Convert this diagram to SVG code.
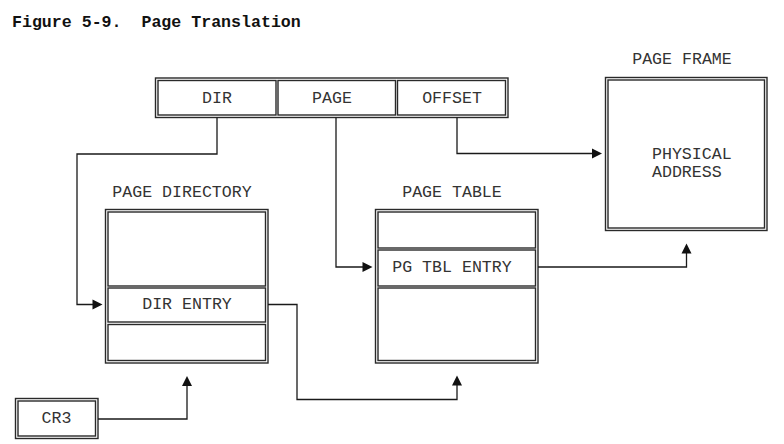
<svg xmlns="http://www.w3.org/2000/svg" width="784" height="444" viewBox="0 0 784 444">
  <defs>
    <style>
      text { font-family: "Liberation Mono", "Courier New", monospace; font-size: 16.6px; fill: #333333; white-space: pre; }
      .title { font-weight: bold; fill: #111; }
      .mid { text-anchor: middle; }
      .box { fill: none; stroke: #2a2a2a; stroke-width: 1.4; }
      .wire { fill: none; stroke: #1a1a1a; stroke-width: 1.3; }
      .head { fill: #111; }
    </style>
  </defs>
  <rect width="784" height="444" fill="#ffffff"/>

  <text class="title" x="12" y="26.5" xml:space="preserve">Figure 5-9.  Page Translation</text>

  <!-- linear address: DIR | PAGE | OFFSET -->
  <g id="linear-address">
    <rect class="box" x="155.5" y="78" width="352.5" height="39.5"/>
    <rect class="box" x="158" y="80.5" width="118" height="34.5"/>
    <rect class="box" x="278" y="80.5" width="117.5" height="34.5"/>
    <rect class="box" x="397.5" y="80.5" width="108" height="34.5"/>
    <text class="mid" x="217" y="102.7">DIR</text>
    <text class="mid" x="332" y="102.7">PAGE</text>
    <text class="mid" x="452" y="102.7">OFFSET</text>
  </g>

  <!-- page frame -->
  <g id="page-frame">
    <text class="mid" x="682" y="64.3">PAGE FRAME</text>
    <rect class="box" x="605.5" y="77.5" width="161.5" height="153"/>
    <rect class="box" x="608" y="80" width="156.5" height="148"/>
    <text x="652" y="159">PHYSICAL</text>
    <text x="652" y="177.3">ADDRESS</text>
  </g>

  <!-- page directory -->
  <g id="page-directory">
    <text class="mid" x="182" y="196.7">PAGE DIRECTORY</text>
    <rect class="box" x="105.5" y="209.5" width="162.5" height="153.5"/>
    <rect class="box" x="108" y="212" width="157.5" height="74"/>
    <rect class="box" x="108" y="288" width="157.5" height="34"/>
    <rect class="box" x="108" y="324.5" width="157.5" height="36"/>
    <text class="mid" x="187" y="309.3">DIR ENTRY</text>
  </g>

  <!-- page table -->
  <g id="page-table">
    <text class="mid" x="452" y="196.7">PAGE TABLE</text>
    <rect class="box" x="375.5" y="209.5" width="162.5" height="153.5"/>
    <rect class="box" x="378" y="212" width="157.5" height="36"/>
    <rect class="box" x="378" y="250" width="157.5" height="36"/>
    <rect class="box" x="378" y="288" width="157.5" height="72.5"/>
    <text class="mid" x="452" y="272.3">PG TBL ENTRY</text>
  </g>

  <!-- CR3 register -->
  <g id="cr3">
    <rect class="box" x="15.5" y="398.5" width="82.5" height="40"/>
    <rect class="box" x="18" y="401" width="77.5" height="35"/>
    <text class="mid" x="56.5" y="423.3">CR3</text>
  </g>

  <!-- connectors -->
  <g id="connectors">
    <polyline class="wire" points="217,117.5 217,154 77,154 77,304.5 94,304.5"/>
    <polygon class="head" points="102.5,304.5 92.5,299.5 92.5,309.5"/>

    <polyline class="wire" points="336,117.5 336,267 364,267"/>
    <polygon class="head" points="372.5,267 362.5,262 362.5,272"/>

    <polyline class="wire" points="457,117.5 457,153.5 594,153.5"/>
    <polygon class="head" points="602,153.5 592,148.5 592,158.5"/>

    <polyline class="wire" points="268,304.5 297,304.5 297,399.5 457,399.5 457,384"/>
    <polygon class="head" points="457,375.5 452,385.5 462,385.5"/>

    <polyline class="wire" points="538,267 686.5,267 686.5,252"/>
    <polygon class="head" points="686.5,243.5 681.5,253.5 691.5,253.5"/>

    <polyline class="wire" points="98,419 187,419 187,384"/>
    <polygon class="head" points="187,376 182,386 192,386"/>
  </g>
</svg>
